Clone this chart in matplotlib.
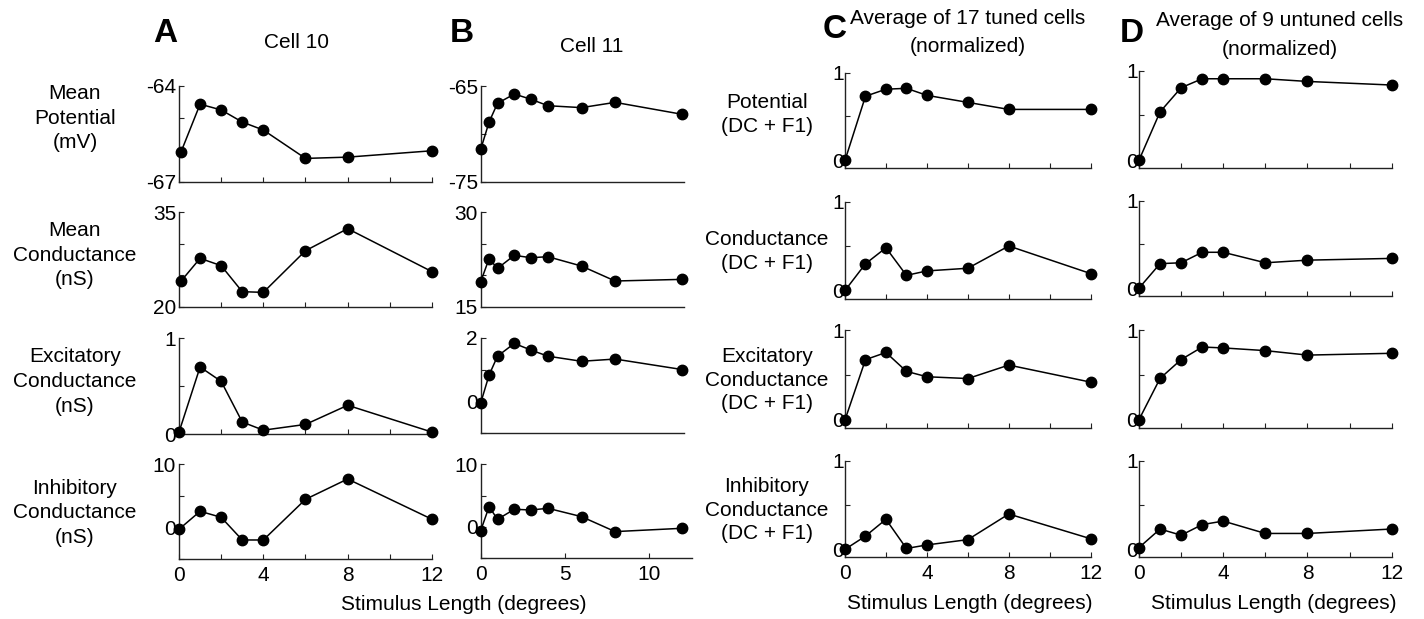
import matplotlib
matplotlib.use("Agg")
import matplotlib.pyplot as plt

plt.rcParams['font.family'] = ['Liberation Sans', 'DejaVu Sans']

# ---------------- data ----------------
x_A_top = [0.1, 1, 2, 3, 4, 6, 8, 12]
x_A = [0, 1, 2, 3, 4, 6, 8, 12]
A_potential = [-66.06, -64.57, -64.75, -65.13, -65.38, -66.27, -66.23, -66.03]
A_conductance = [24.07, 27.66, 26.5, 22.38, 22.27, 28.87, 32.36, 25.55]
A_excitatory = [0.02, 0.70, 0.55, 0.125, 0.04, 0.10, 0.30, 0.02]
A_inhibitory = [-0.26, 2.58, 1.63, -1.95, -1.95, 4.47, 7.68, 1.32]

x_B = [0, 0.5, 1, 2, 3, 4, 6, 8, 12]
B_potential = [-71.62, -68.76, -66.81, -65.84, -66.39, -67.06, -67.26, -66.71, -67.96]
B_conductance = [18.96, 22.61, 21.07, 23.13, 22.76, 22.92, 21.44, 19.07, 19.33]
B_excitatory = [-0.05, 0.83, 1.42, 1.82, 1.61, 1.42, 1.26, 1.33, 1.0]
B_inhibitory = [-0.59, 3.24, 1.22, 2.82, 2.71, 2.98, 1.65, -0.74, -0.21]

x_CD = [0, 1, 2, 3, 4, 6, 8, 12]
C_potential = [0.0, 0.73, 0.81, 0.82, 0.74, 0.66, 0.58, 0.58]
C_conductance = [0.0, 0.30, 0.48, 0.17, 0.22, 0.25, 0.50, 0.19]
C_excitatory = [0.0, 0.67, 0.75, 0.54, 0.48, 0.46, 0.61, 0.42]
C_inhibitory = [0.0, 0.15, 0.34, 0.01, 0.05, 0.11, 0.40, 0.12]

D_potential = [0.0, 0.54, 0.81, 0.91, 0.91, 0.91, 0.88, 0.84]
D_conductance = [0.0, 0.28, 0.29, 0.41, 0.41, 0.29, 0.32, 0.34]
D_excitatory = [0.0, 0.46, 0.67, 0.81, 0.80, 0.77, 0.72, 0.74]
D_inhibitory = [0.02, 0.23, 0.16, 0.28, 0.32, 0.18, 0.18, 0.23]

row_labels_AB = ["Mean\nPotential\n(mV)", "Mean\nConductance\n(nS)",
                 "Excitatory\nConductance\n(nS)", "Inhibitory\nConductance\n(nS)"]
row_labels_C = ["Potential\n(DC + F1)", "Conductance\n(DC + F1)",
                "Excitatory\nConductance\n(DC + F1)", "Inhibitory\nConductance\n(DC + F1)"]

# ---------------- layout ----------------
W, H = 1424, 619
fig = plt.figure(figsize=(W / 100, H / 100), dpi=100)
FS = 15
SPINE = '#222222'


def add_ax(left, top, right, bottom):
    return fig.add_axes([left / W, 1 - bottom / H, (right - left) / W, (bottom - top) / H])


def P(x, y):
    return x / W, 1 - y / H


def style(ax, xlim, ylim, yticks, ylabels, xticks, xlabels):
    ax.set_xlim(*xlim)
    ax.set_ylim(*ylim)
    for s in ['top', 'right']:
        ax.spines[s].set_visible(False)
    for s in ['left', 'bottom']:
        ax.spines[s].set_color(SPINE)
        ax.spines[s].set_linewidth(1.0)
    ax.set_yticks(yticks)
    ax.set_yticklabels(ylabels)
    ax.set_xticks(xticks)
    ax.set_xticklabels(xlabels)
    ax.tick_params(axis='y', direction='in', length=3.5, width=0.8, color=SPINE,
                   labelsize=FS, pad=2)
    ax.tick_params(axis='x', direction='in', length=3.5, width=0.8, color=SPINE,
                   labelsize=FS, pad=5)
    ax.patch.set_alpha(0)


def plot(ax, x, y):
    ax.plot(x, y, color='black', lw=1.1, marker='o', ms=7.5, clip_on=False, zorder=3)


rowsA = [(86, 181.7), (212, 306.7), (338.3, 434), (464.3, 559.3)]
rowsB = [(86, 181.7), (212, 306.7), (337.7, 433.3), (464.3, 558.3)]
rowsC = [(72.5, 168.3), (201.5, 298.5), (330, 428), (461, 557.3)]
rowsD = [(70.7, 168.3), (200.7, 296), (330, 427.7), (461, 557.3)]

# Column A
A_data = [(x_A_top, A_potential, (-67, -64), [-67, -66, -65, -64], ['-67', '', '', '-64']),
          (x_A_top, A_conductance, (20, 35), [20, 25, 30, 35], ['20', '', '', '35']),
          (x_A, A_excitatory, (0, 1), [0, 0.5, 1], ['0', '', '1']),
          (x_A, A_inhibitory, (-5, 10), [-5, 0, 5, 10], ['', '0', '', '10'])]
for i, (xx, yy, yl, yt, ytl) in enumerate(A_data):
    ax = add_ax(179, rowsA[i][0], 432, rowsA[i][1])
    xt = [0, 2, 4, 6, 8, 10, 12]
    xtl = ['0', '', '4', '', '8', '', '12'] if i == 3 else [''] * 7
    style(ax, (0, 12), yl, yt, ytl, xt, xtl)
    plot(ax, xx, yy)

# Column B
B_data = [(B_potential, (-75, -65), [-75, -70, -65], ['-75', '', '-65']),
          (B_conductance, (15, 30), [15, 20, 25, 30], ['15', '', '', '30']),
          (B_excitatory, (-1, 2), [-1, 0, 1, 2], ['', '0', '', '2']),
          (B_inhibitory, (-5, 10), [-5, 0, 5, 10], ['', '0', '', '10'])]
for i, (yy, yl, yt, ytl) in enumerate(B_data):
    if i == 3:
        ax = add_ax(480.7, rowsB[i][0], 480.7 + 12.6 * 16.8, rowsB[i][1])
        style(ax, (0, 12.6), yl, yt, ytl, [0, 5, 10], ['0', '5', '10'])
    else:
        ax = add_ax(480.7, rowsB[i][0], 480.7 + 12.1 * 16.8, rowsB[i][1])
        style(ax, (0, 12.1), yl, yt, ytl, [], [])
    plot(ax, x_B, yy)

# Columns C and D
for col, rows, left, right, series in [
        ('C', rowsC, 845, 1090.7, [C_potential, C_conductance, C_excitatory, C_inhibitory]),
        ('D', rowsD, 1139, 1391.7, [D_potential, D_conductance, D_excitatory, D_inhibitory])]:
    for i, yy in enumerate(series):
        ax = add_ax(left, rows[i][0], right, rows[i][1])
        xt = [0, 2, 4, 6, 8, 10, 12]
        xtl = ['0', '', '4', '', '8', '', '12'] if i == 3 else [''] * 7
        style(ax, (0, 12), (-0.09, 1), [0, 0.5, 1], ['0', '', '1'], xt, xtl)
        ax.tick_params(axis='y', pad=1)
        plot(ax, x_CD, yy)

# ---------------- texts ----------------
for lab, yc in zip(row_labels_AB, [118, 255, 381.7, 512.7]):
    fig.text(*P(75, yc), lab, ha='center', va='center', fontsize=FS, linespacing=1.38)
for lab, yc in zip(row_labels_C, [114.7, 251.7, 380, 510]):
    fig.text(*P(767, yc), lab, ha='center', va='center', fontsize=FS, linespacing=1.33)

for letter, (px, py) in zip("ABCD", [(165, 33), (461.7, 33), (835, 30), (1131.7, 33)]):
    fig.text(*P(px, py), letter, ha='center', va='center', fontsize=24, fontweight='bold')

fig.text(*P(296.7, 42.7), "Cell 10", ha='center', va='center', fontsize=FS)
fig.text(*P(591.7, 46.7), "Cell 11", ha='center', va='center', fontsize=FS)
fig.text(*P(968, 32.5), "Average of 17 tuned cells\n(normalized)", ha='center', va='center',
         fontsize=FS, linespacing=1.62)
fig.text(*P(1280, 35), "Average of 9 untuned cells\n(normalized)", ha='center', va='center',
         fontsize=FS, linespacing=1.62)

for xc, yc in [(463.3, 605), (970, 603.3), (1273.3, 603.3)]:
    fig.text(*P(xc, yc), "Stimulus Length (degrees)", ha='center', va='center', fontsize=FS)

fig.savefig("out.png", dpi=100, facecolor='white')
